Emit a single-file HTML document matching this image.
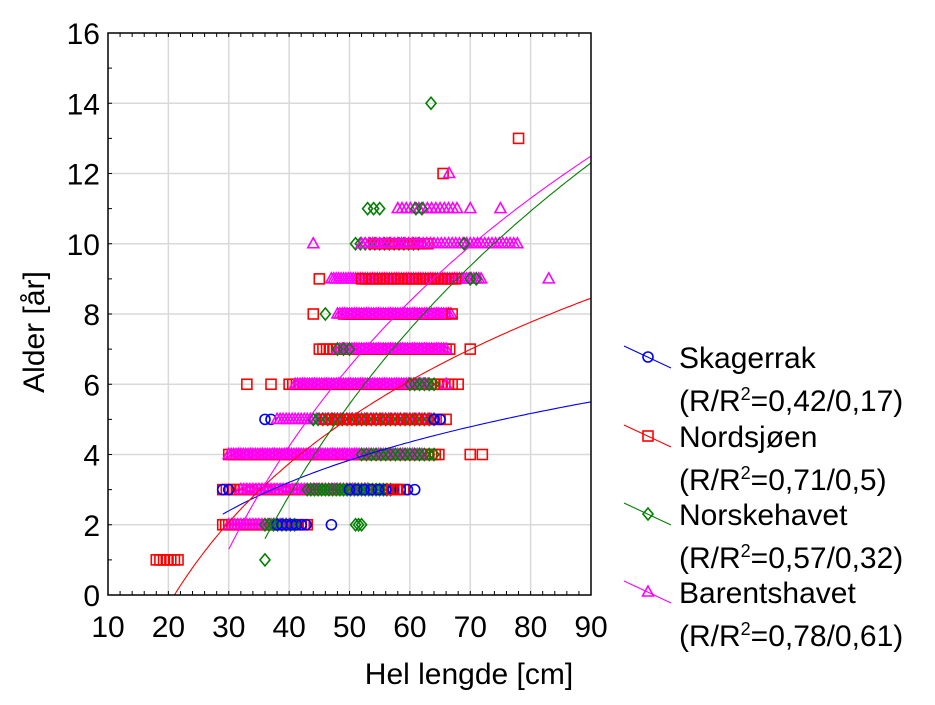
<!DOCTYPE html>
<html><head><meta charset="utf-8"><style>
html,body{margin:0;padding:0;background:#fff;}
svg text{font-family:"Liberation Sans",Arial,sans-serif;fill:#000;}
</style></head><body>
<svg id="s" width="935" height="700" xmlns="http://www.w3.org/2000/svg">
<rect width="935" height="700" fill="#fff"/>
<g id="grid"></g>
<g id="data"></g>
<g id="curves"></g>
<g id="axes"></g>
<g font-size="30">
<text x="469" y="684" text-anchor="middle">Hel lengde [cm]</text>
<text transform="translate(44,332) rotate(-90)" text-anchor="middle">Alder [år]</text>
</g>
<g id="legend" font-size="30">
<text x="679" y="368">Skagerrak</text>
<text x="679" y="411">(R/R<tspan dy="-11" font-size="18">2</tspan><tspan dy="11">=0,42/0,17)</tspan></text>
<text x="679" y="447">Nordsjøen</text>
<text x="679" y="490">(R/R<tspan dy="-11" font-size="18">2</tspan><tspan dy="11">=0,71/0,5)</tspan></text>
<text x="679" y="525">Norskehavet</text>
<text x="679" y="568">(R/R<tspan dy="-11" font-size="18">2</tspan><tspan dy="11">=0,57/0,32)</tspan></text>
<text x="679" y="603">Barentshavet</text>
<text x="679" y="646">(R/R<tspan dy="-11" font-size="18">2</tspan><tspan dy="11">=0,78/0,61)</tspan></text>
</g>
</svg>
<script>
const NS="http://www.w3.org/2000/svg";
const X=v=>108+(v-10)*6.0375, Y=v=>595-v*35.125;
function el(p,t,a){const e=document.createElementNS(NS,t);for(const k in a)e.setAttribute(k,a[k]);p.appendChild(e);return e;}
const g=document.getElementById('grid'),ax=document.getElementById('axes'),d=document.getElementById('data'),cv=document.getElementById('curves'),lg=document.getElementById('legend');
for(let v=20;v<90;v+=10)el(g,'line',{x1:X(v),x2:X(v),y1:Y(16),y2:Y(0),stroke:'#d9d9d9','stroke-width':1.5});
for(let v=2;v<16;v+=2)el(g,'line',{x1:X(10),x2:X(90),y1:Y(v),y2:Y(v),stroke:'#d9d9d9','stroke-width':1.5});
el(ax,'rect',{x:X(10),y:Y(16),width:X(90)-X(10),height:Y(0)-Y(16),fill:'none',stroke:'#000','stroke-width':1.5});
for(let v=10;v<=90;v+=2){el(ax,'line',{x1:X(v),x2:X(v),y1:Y(0),y2:Y(0)-4,stroke:'#000'});el(ax,'line',{x1:X(v),x2:X(v),y1:Y(16),y2:Y(16)+4,stroke:'#000'});}
for(let v=0;v<=16;v++){el(ax,'line',{x1:X(10),x2:X(10)+4,y1:Y(v),y2:Y(v),stroke:'#000'});}
for(let v=10;v<=90;v+=10){const t=el(ax,'text',{x:X(v),y:637,'text-anchor':'middle','font-size':30});t.textContent=v;}
for(let v=0;v<=16;v+=2){const t=el(ax,'text',{x:100,y:Y(v)+11,'text-anchor':'end','font-size':30});t.textContent=v;}
const C={b:'#0000ff',r:'#ff0000',g:'#008000',m:'#ff00ff'};
function mk(p,s,cx,cy){const c=C[s],o={fill:'none',stroke:c,'stroke-width':1.6};
 if(s=='b')el(p,'circle',Object.assign({cx,cy,r:5},o));
 else if(s=='r')el(p,'rect',Object.assign({x:cx-5,y:cy-5,width:10,height:10},o));
 else if(s=='g')el(p,'polygon',Object.assign({points:`${cx},${cy-6} ${cx+5},${cy} ${cx},${cy+6} ${cx-5},${cy}`},o));
 else el(p,'polygon',Object.assign({points:`${cx},${cy-6} ${cx+5.5},${cy+4} ${cx-5.5},${cy+4}`},o));}
const R=[
[1,'r',18,22,0.6],[1,'g',36,36],
[2,'r',29,43,0.5],[2,'m',30,40,0.5],[2,'g',36,41,0.7],[2,'b',38,43,0.8],[2,'b',47,47],[2,'g',51,52,0.5],
[3,'r',29,59,0.6],[3,'b',29,30,1],[3,'m',32,53,0.5],[3,'g',43,57,0.6],[3,'b',50,61,1.2],[3,'r',57,58,1],
[4,'r',30,65,0.6],[4,'m',30,62,0.4],[4,'g',52,64,0.8],[4,'r',70,72,2],
[5,'b',36,37,1],[5,'m',38,64,0.5],[5,'g',44,64,0.8],[5,'r',46,66,1],[5,'b',64,65,1],
[6,'r',33,33],[6,'r',37,37],[6,'r',40,67,0.6],[6,'m',41,63,0.4],[6,'g',60,64,0.8],[6,'m',66,66],[6,'r',68,68],
[7,'r',45,67,0.6],[7,'m',48,66,0.4],[7,'g',48,50,1],[7,'r',70,70],
[8,'r',44,44],[8,'g',46,46],[8,'r',49,66,0.6],[8,'m',48,67,0.4],[8,'r',67,67],
[9,'r',45,45],[9,'m',47,72,0.4],[9,'r',52,68,0.6],[9,'g',70,71,1],[9,'m',83,83],
[10,'m',44,44],[10,'g',51,62,0.8],[10,'r',54,63,0.6],[10,'m',52,78,0.6],[10,'g',69,69],
[11,'g',53,55,1],[11,'m',58,68,0.7],[11,'m',70,70],[11,'m',75,75],[11,'g',61,62,1],
[12,'r',65.5,65.5],[12,'m',66.5,66.5],[13,'r',78,78],[14,'g',63.5,63.5]];
for(const [a,s,x0,x1,st] of R){const step=st||1;for(let x=x0;x<=x1+1e-9;x+=step)mk(d,s,X(x),Y(a));}
function curve(c,f,x0){let p='';for(let x=x0;x<=90;x+=0.5){const y=f(x);if(y>16)break;p+=(p?'L':'M')+X(x).toFixed(1)+','+Y(y).toFixed(1);}el(cv,'path',{d:p,fill:'none',stroke:c,'stroke-width':1.1});}
curve(C.b,x=>2.3+2.825*Math.log(x/29),29);
curve(C.r,x=>5.807*Math.log(x/21),21);
curve(C.g,x=>1.6+11.68*Math.log(x/36),36);
curve(C.m,x=>1.3+10.19*Math.log(x/30),30);
[['b',357],['r',436],['g',514],['m',592]].forEach(([s,y])=>{el(lg,'line',{x1:624,x2:671,y1:y-11,y2:y+11,stroke:C[s],'stroke-width':1.1});mk(lg,s,648,y);});
</script>
</body></html>
